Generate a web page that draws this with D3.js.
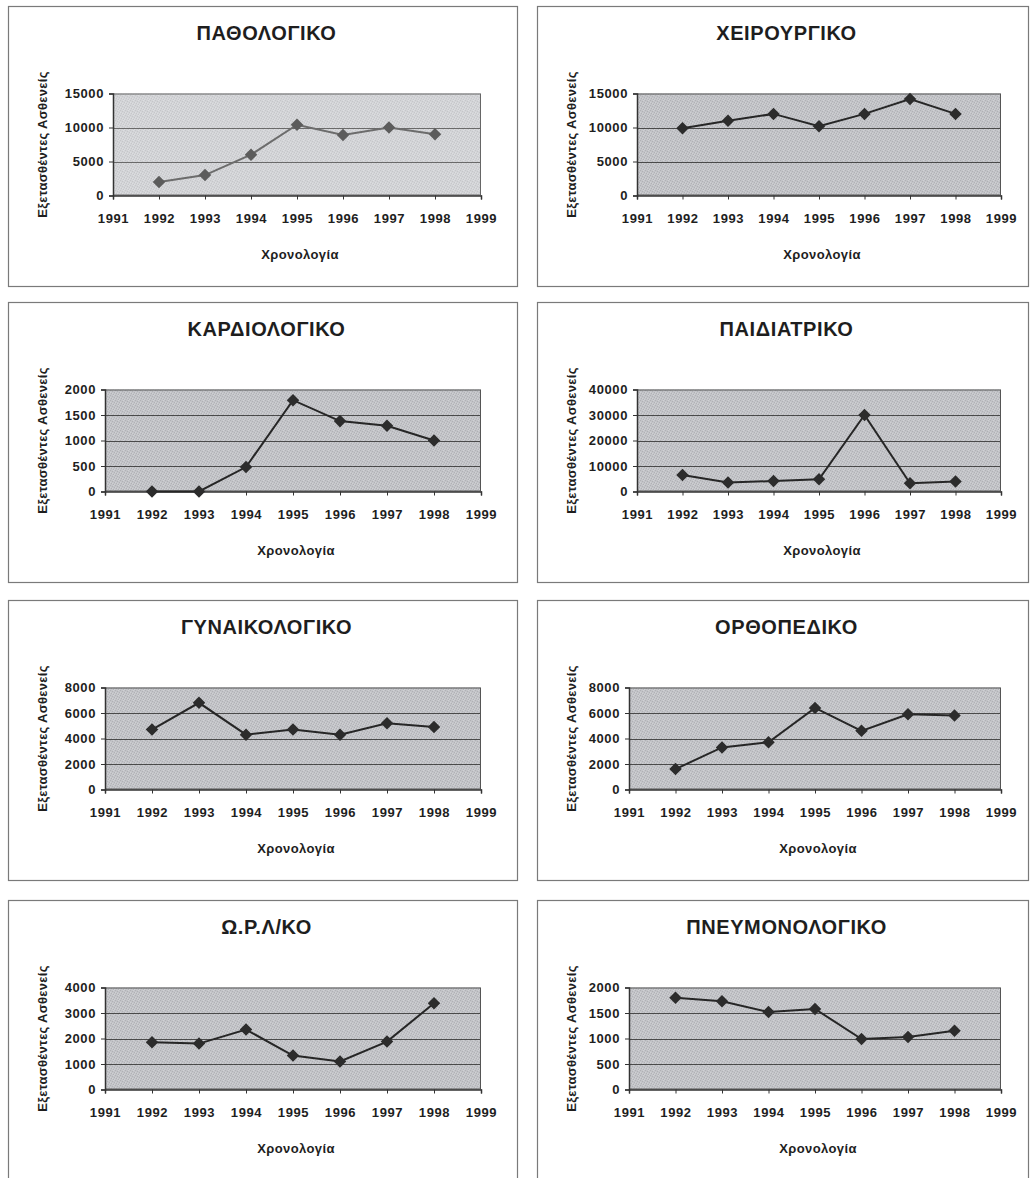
<!DOCTYPE html>
<html>
<head>
<meta charset="utf-8">
<script src="https://cdn.jsdelivr.net/npm/d3@7"></script>
<style>
  html, body { margin: 0; padding: 0; background: #ffffff; }
  svg { display: block; }
  text { font-family: "Liberation Sans", Arial, sans-serif; fill: #1e1e1e; }
</style>
</head>
<body>
<script>
// ---------------- DATA ----------------
const years = [1992, 1993, 1994, 1995, 1996, 1997, 1998];
const yearTicks = [1991, 1992, 1993, 1994, 1995, 1996, 1997, 1998, 1999];

const titles = ["ΠΑΘΟΛΟΓΙΚΟ", "ΧΕΙΡΟΥΡΓΙΚΟ", "ΚΑΡΔΙΟΛΟΓΙΚΟ", "ΠΑΙΔΙΑΤΡΙΚΟ",
                "ΓΥΝΑΙΚΟΛΟΓΙΚΟ", "ΟΡΘΟΠΕΔΙΚΟ", "Ω.Ρ.Λ/ΚΟ", "ΠΝΕΥΜΟΝΟΛΟΓΙΚΟ"];

const pathologiko    = [2000, 3000, 6000, 10400, 8900, 10000, 9000];
const xeirourgiko    = [9900, 11000, 12000, 10200, 12000, 14200, 12000];
const kardiologiko   = [0, 0, 480, 1790, 1380, 1290, 1000];
const paidiatriko    = [6500, 3500, 4100, 4800, 30000, 3200, 3900];
const gynaikologiko  = [4700, 6800, 4300, 4700, 4300, 5200, 4900];
const orthopediko    = [1600, 3300, 3700, 6400, 4600, 5900, 5800];
const orl            = [1850, 1800, 2350, 1330, 1100, 1880, 3380];
const pneumonologiko = [1800, 1730, 1520, 1580, 990, 1030, 1150];

const ticks15000 = [0, 5000, 10000, 15000];
const ticks2000  = [0, 500, 1000, 1500, 2000];
const ticks40000 = [0, 10000, 20000, 30000, 40000];
const ticks8000  = [0, 2000, 4000, 6000, 8000];
const ticks4000  = [0, 1000, 2000, 3000, 4000];

const yTitle = "Εξετασθέντες Ασθενείς";
const xTitle = "Χρονολογία";

const seriesList = [pathologiko, xeirourgiko, kardiologiko, paidiatriko,
                    gynaikologiko, orthopediko, orl, pneumonologiko];
const tickList = [ticks15000, ticks15000, ticks2000, ticks40000,
                  ticks8000, ticks8000, ticks4000, ticks2000];

// ---------------- LAYOUT ----------------
const W = 1030, H = 1178;
const svg = d3.select("body").append("svg").attr("width", W).attr("height", H);

const defs = svg.append("defs");
function stipple(id, base, dark, light) {
  const p = defs.append("pattern").attr("id", id).attr("patternUnits", "userSpaceOnUse")
    .attr("width", 5).attr("height", 5);
  p.append("rect").attr("width", 5).attr("height", 5).attr("fill", base);
  [[0,0],[2,1],[4,2],[1,3],[3,4]].forEach(([a,b]) =>
    p.append("rect").attr("x", a).attr("y", b).attr("width", 1).attr("height", 1).attr("fill", dark));
  [[3,0],[0,2],[2,3],[4,4]].forEach(([a,b]) =>
    p.append("rect").attr("x", a).attr("y", b).attr("width", 1).attr("height", 1).attr("fill", light));
}
stipple("stip", "#c3c4c8", "#b0b1b5", "#d0d1d4");
stipple("stipLight", "#d3d4d7", "#c5c6c9", "#dddee1");

const colX = [8, 537];
const colW = [509, 491];
const colPlotRight = [481, 1001];
const colInset = [97, 92];
const rowY = [6, 302, 600, 900];
const frameH = 280;

titles.forEach((t, i) => {
  const col = i % 2, row = Math.floor(i / 2);
  const faded = (i === 0);
  const fx = colX[col], fy = rowY[row];
  const data = seriesList[i];
  const ticks = tickList[i];
  const maxV = d3.max(ticks);
  const digits = String(maxV).length;

  const g = svg.append("g");

  // frame
  g.append("rect").attr("x", fx + 0.5).attr("y", fy + 0.5)
    .attr("width", colW[col]).attr("height", frameH)
    .attr("fill", "none").attr("stroke", "#7a7a7a").attr("stroke-width", 1.2);

  const x0 = fx + colInset[col] + (digits - 4) * 8;
  const x1 = colPlotRight[col];
  const y0 = fy + 87.5, y1 = fy + 189.5;

  const x = d3.scaleLinear().domain([1991, 1999]).range([x0, x1]);
  const y = d3.scaleLinear().domain([0, maxV]).range([y1, y0]);

  // title
  g.append("text").attr("x", fx + colW[col] / 2 + 4).attr("y", fy + 34)
    .attr("text-anchor", "middle").attr("font-size", 20).attr("font-weight", "bold")
    .attr("letter-spacing", 0.6)
    .text(t);

  // plot area
  g.append("rect").attr("x", x0).attr("y", y0).attr("width", x1 - x0).attr("height", y1 - y0)
    .attr("fill", faded ? "url(#stipLight)" : "url(#stip)");

  // gridlines
  g.append("g").selectAll("line").data(ticks.filter(v => v > 0 && v < maxV)).join("line")
    .attr("x1", x0).attr("x2", x1)
    .attr("y1", d => Math.round(y(d)) + 0.5).attr("y2", d => Math.round(y(d)) + 0.5)
    .attr("stroke", faded ? "#6a6a6a" : "#4a4a4a").attr("stroke-width", 1);

  // plot border
  g.append("rect").attr("x", x0 + 0.5).attr("y", y0 + 0.5).attr("width", x1 - x0 - 1).attr("height", y1 - y0 - 1)
    .attr("fill", "none").attr("stroke", faded ? "#666" : "#555").attr("stroke-width", 1);

  // axes
  const yAxis = d3.axisLeft(y).tickValues(ticks).tickSize(4).tickPadding(5).tickFormat(d3.format("d"));
  const ya = g.append("g").attr("transform", `translate(${x0},0)`).call(yAxis);
  const xAxis = d3.axisBottom(x).tickValues(yearTicks).tickSize(4).tickPadding(14).tickFormat(d3.format("d"));
  const xa = g.append("g").attr("transform", `translate(0,${y1})`).call(xAxis);
  [ya, xa].forEach(a => {
    a.select(".domain").attr("stroke", "#333").attr("stroke-width", 1.5);
    a.selectAll(".tick line").attr("stroke", "#333");
    a.selectAll(".tick text").attr("font-size", 13).attr("font-weight", "bold")
      .attr("letter-spacing", 0.6)
      .attr("font-family", "'Liberation Sans', Arial, sans-serif").attr("fill", "#1e1e1e");
  });
  if (faded) {
    xa.selectAll(".tick text").filter(d => d <= 1992).attr("fill", "#9a9a9a");
  }

  // axis titles
  g.append("text").attr("transform", `translate(${fx + 39},${(y0 + y1) / 2}) rotate(-90)`)
    .attr("text-anchor", "middle").attr("font-size", 13).attr("font-weight", "bold")
    .attr("letter-spacing", 0.3)
    .text(yTitle);
  g.append("text").attr("x", (x0 + x1) / 2 + 3).attr("y", y1 + 63)
    .attr("text-anchor", "middle").attr("font-size", 13).attr("font-weight", "bold")
    .attr("letter-spacing", 0.4)
    .text(xTitle);

  // line
  const line = d3.line().x((d, k) => x(years[k])).y(d => y(d));
  g.append("path").datum(data).attr("d", line)
    .attr("fill", "none").attr("stroke", faded ? "#6c6c6c" : "#262626").attr("stroke-width", 2);

  // markers
  g.append("g").selectAll("path").data(data).join("path")
    .attr("transform", (d, k) => `translate(${x(years[k])},${y(d)})`)
    .attr("d", d3.symbol().type(d3.symbolDiamond2).size(100))
    .attr("fill", faded ? "#5c5c5c" : "#2c2c2c");
});
</script>
</body>
</html>
